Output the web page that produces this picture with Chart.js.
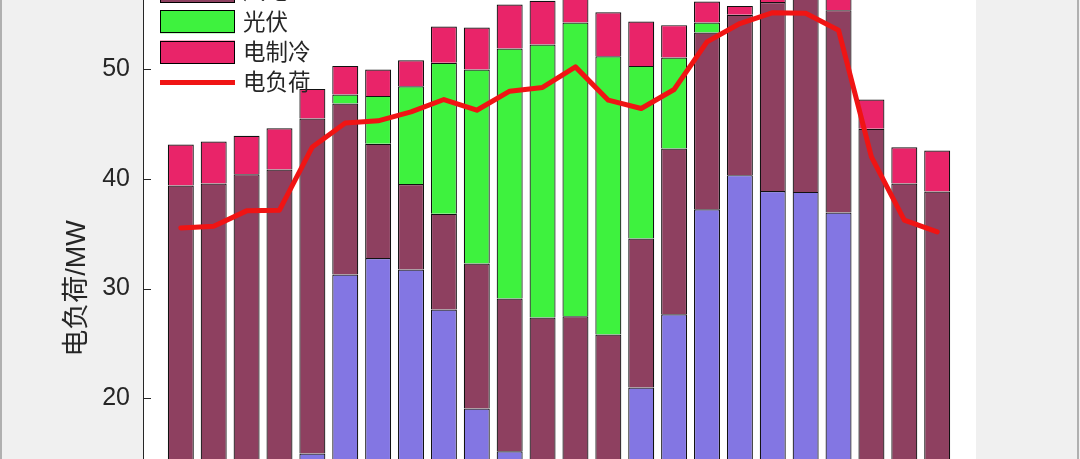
<!DOCTYPE html>
<html>
<head>
<meta charset="utf-8">
<script src="https://cdn.jsdelivr.net/npm/chart.js@4.4.1/dist/chart.umd.min.js"></script>
<style>
  html, body { margin: 0; padding: 0; background: #f0f0f0; width: 1080px; height: 459px; overflow: hidden; position: relative; }
  #c { position: absolute; left: 0; top: -70px; }
  .edgeL { position: absolute; left: 0; top: 0; width: 2px; height: 459px; background: #b0b0b0; }
  .edgeR { position: absolute; left: 1077px; top: 0; width: 2px; height: 459px; background: #b0b0b0; }
</style>
</head>
<body>
<canvas id="c" width="1080" height="730"></canvas>
<div class="edgeL"></div>
<div class="edgeR"></div>
<script>
// ---- data ----
const hours = [1,2,3,4,5,6,7,8,9,10,11,12,13,14,15,16,17,18,19,20,21,22,23,24];
const seriesNames = ['燃气轮机', '风电', '光伏', '电制冷', '电负荷'];
const legendSeries = ['风电', '光伏', '电制冷', '电负荷'];
const gasTurbine = [12, 12, 12, 12, 14.93, 31.28, 32.79, 31.74, 28.08, 19.04, 15.14, 12, 12, 12, 20.96, 27.65, 37.24, 40.35, 38.91, 38.82, 36.94, 12, 12, 12];
const windPower  = [27.41, 27.59, 28.44, 28.87, 30.60, 15.61, 10.42, 7.81, 8.75, 13.24, 13.95, 15.35, 15.47, 13.80, 13.61, 15.14, 16.14, 14.64, 17.26, 18.18, 18.48, 32.58, 27.59, 26.86];
const pvPower    = [0, 0, 0, 0, 0, 0.83, 4.38, 8.92, 13.79, 17.72, 22.83, 24.93, 26.82, 25.41, 15.76, 8.31, 0.91, 0, 0, 0, 0, 0, 0, 0];
const eChiller   = [3.74, 3.83, 3.50, 3.77, 2.70, 2.61, 2.41, 2.38, 3.31, 3.84, 4.02, 3.99, 3.30, 4.02, 4.05, 2.95, 1.92, 0.82, 1.00, 1.00, 1.20, 2.68, 3.31, 3.74];
const elecLoad   = [35.53, 35.69, 37.09, 37.15, 42.93, 45.12, 45.31, 46.13, 47.26, 46.28, 48.02, 48.36, 50.24, 47.20, 46.44, 48.17, 52.52, 54.20, 55.19, 55.14, 53.59, 42.02, 36.24, 35.17];
const yTickValues = [0, 10, 20, 30, 40, 50, 60];
const yTitle = '电负荷/MW';

const TEXT = '#262626';
const FONT = '"Liberation Sans", "Noto Sans CJK SC", sans-serif';

const plotBg = {
  id: 'plotBg',
  beforeDraw(chart) {
    const { ctx, chartArea: a } = chart;
    ctx.save();
    ctx.fillStyle = '#ffffff';
    ctx.fillRect(a.left, a.top, a.right - a.left, a.bottom - a.top);
    ctx.restore();
  }
};

const inwardTicks = {
  id: 'inwardTicks',
  afterDatasetsDraw(chart) {
    const { ctx, chartArea: a } = chart;
    const ys = chart.scales.y;
    ctx.save();
    ctx.strokeStyle = TEXT;
    ctx.lineWidth = 1;
    ys.ticks.forEach(t => {
      const y = Math.round(ys.getPixelForValue(t.value)) + 0.5;
      ctx.beginPath();
      ctx.moveTo(a.left, y);
      ctx.lineTo(a.left + 8, y);
      ctx.stroke();
    });
    ctx.restore();
  }
};

const matlabLegend = {
  id: 'matlabLegend',
  afterDatasetsDraw(chart) {
    const { ctx, chartArea: a } = chart;
    const x0 = a.left + 17, boxW = 75, boxH = 23, pitch = 30.3;
    const firstY = a.top + 31.5;
    ctx.save();
    ctx.font = '22.5px ' + FONT;
    ctx.textBaseline = 'middle';
    ctx.textAlign = 'left';
    let row = 0;
    chart.data.datasets.forEach(ds => {
      if (!legendSeries.includes(ds.label)) return;
      const cy = firstY + row * pitch;
      if (ds.type === 'line') {
        ctx.strokeStyle = ds.borderColor;
        ctx.lineWidth = ds.borderWidth;
        ctx.lineCap = 'butt';
        ctx.beginPath();
        ctx.moveTo(x0, cy);
        ctx.lineTo(x0 + boxW, cy);
        ctx.stroke();
      } else {
        ctx.fillStyle = ds.backgroundColor;
        ctx.fillRect(x0, cy - boxH / 2, boxW, boxH);
        ctx.strokeStyle = '#000000';
        ctx.lineWidth = 1;
        ctx.strokeRect(Math.round(x0) + 0.5, Math.round(cy - boxH / 2) + 0.5, boxW - 1, boxH - 1);
      }
      ctx.fillStyle = TEXT;
      ctx.fillText(ds.label, x0 + boxW + 8, cy + 1.5);
      row++;
    });
    ctx.restore();
  }
};

const barCommon = { type: 'bar', borderColor: '#111111', borderWidth: 1.2, borderSkipped: 'start', barPercentage: 0.79, categoryPercentage: 1.0, order: 1 };

new Chart(document.getElementById('c').getContext('2d'), {
  data: {
    labels: hours,
    datasets: [
      Object.assign({ label: seriesNames[0], data: gasTurbine, backgroundColor: '#8376E3' }, barCommon),
      Object.assign({ label: seriesNames[1], data: windPower,  backgroundColor: '#8E4060' }, barCommon),
      Object.assign({ label: seriesNames[2], data: pvPower,    backgroundColor: '#3EF23E' }, barCommon),
      Object.assign({ label: seriesNames[3], data: eChiller,   backgroundColor: '#E92469' }, barCommon),
      { type: 'line', label: seriesNames[4], data: elecLoad, borderColor: '#f01414', borderWidth: 5,
        pointRadius: 0, tension: 0, fill: false, borderJoinStyle: 'round', borderCapStyle: 'round', order: 0 }
    ]
  },
  options: {
    responsive: false,
    animation: false,
    devicePixelRatio: 1,
    layout: { padding: { left: 0, right: 104, top: 30, bottom: 43 } },
    plugins: { legend: { display: false }, tooltip: { enabled: false } },
    scales: {
      x: { type: 'linear', min: -0.15, max: 25.18, stacked: true, offset: false, display: false },
      y: {
        stacked: true, min: 0, max: 60,
        afterBuildTicks(scale) { scale.ticks = yTickValues.map(v => ({ value: v })); },
        afterFit(scale) { scale.width = 143; },
        grid: { display: false, drawTicks: false },
        border: { display: true, color: TEXT, width: 1 },
        ticks: { color: TEXT, padding: 13, font: { size: 25, family: FONT } },
        title: { display: true, text: yTitle, color: TEXT, font: { size: 27, family: FONT }, padding: { top: 61, bottom: 0 } }
      }
    }
  },
  plugins: [plotBg, inwardTicks, matlabLegend]
});
</script>
</body>
</html>
